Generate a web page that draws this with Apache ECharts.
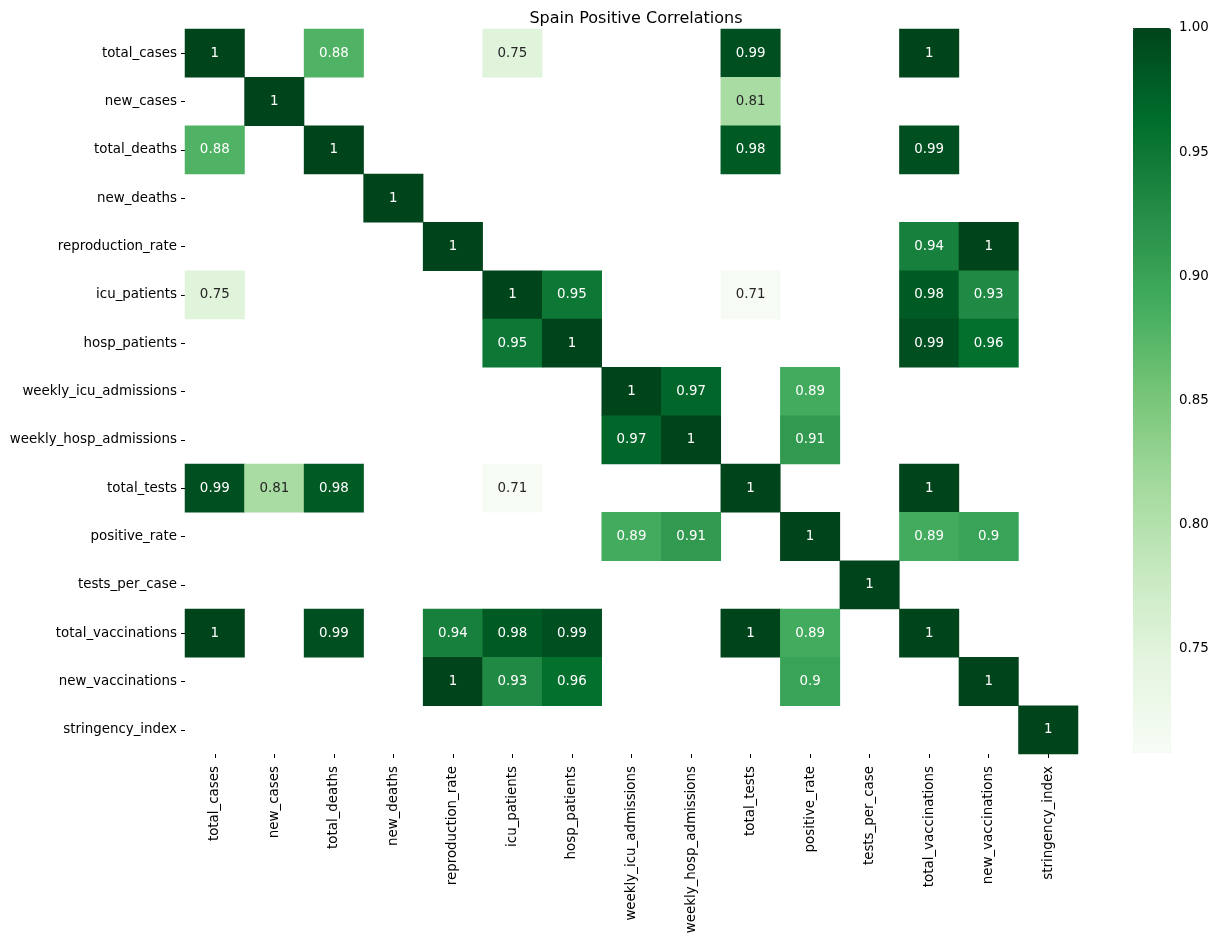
<!DOCTYPE html>
<html>
<head>
<meta charset="utf-8">
<title>Spain Positive Correlations</title>
<script src="https://cdn.jsdelivr.net/npm/echarts@6/dist/echarts.min.js"></script>
<style>
  html, body { margin: 0; padding: 0; background: #fff; }
  #chart { width: 1219px; height: 940px; }
</style>
</head>
<body>
<div id="chart"></div>
<script>
  // variable names, same order on both axes
  var variables = ['total_cases', 'new_cases', 'total_deaths', 'new_deaths', 'reproduction_rate',
    'icu_patients', 'hosp_patients', 'weekly_icu_admissions', 'weekly_hosp_admissions', 'total_tests',
    'positive_rate', 'tests_per_case', 'total_vaccinations', 'new_vaccinations', 'stringency_index'];

  // correlation matrix, null = not shown (below threshold)
  var n = null;
  var corrMatrix = [
    [1,    n,    0.88, n, n,    0.75, n,    n,    n,    0.99, n,    n, 1,    n,    n],
    [n,    1,    n,    n, n,    n,    n,    n,    n,    0.81, n,    n, n,    n,    n],
    [0.88, n,    1,    n, n,    n,    n,    n,    n,    0.98, n,    n, 0.99, n,    n],
    [n,    n,    n,    1, n,    n,    n,    n,    n,    n,    n,    n, n,    n,    n],
    [n,    n,    n,    n, 1,    n,    n,    n,    n,    n,    n,    n, 0.94, 1,    n],
    [0.75, n,    n,    n, n,    1,    0.95, n,    n,    0.71, n,    n, 0.98, 0.93, n],
    [n,    n,    n,    n, n,    0.95, 1,    n,    n,    n,    n,    n, 0.99, 0.96, n],
    [n,    n,    n,    n, n,    n,    n,    1,    0.97, n,    0.89, n, n,    n,    n],
    [n,    n,    n,    n, n,    n,    n,    0.97, 1,    n,    0.91, n, n,    n,    n],
    [0.99, 0.81, 0.98, n, n,    0.71, n,    n,    n,    1,    n,    n, 1,    n,    n],
    [n,    n,    n,    n, n,    n,    n,    0.89, 0.91, n,    1,    n, 0.89, 0.9,  n],
    [n,    n,    n,    n, n,    n,    n,    n,    n,    n,    n,    1, n,    n,    n],
    [1,    n,    0.99, n, 0.94, 0.98, 0.99, n,    n,    1,    0.89, n, 1,    n,    n],
    [n,    n,    n,    n, 1,    0.93, 0.96, n,    n,    n,    0.9,  n, n,    1,    n],
    [n,    n,    n,    n, n,    n,    n,    n,    n,    n,    n,    n, n,    n,    1]
  ];

  var colorMin = 0.708;
  var colorMax = 1.0;
  var colorbarTicks = [0.75, 0.80, 0.85, 0.90, 0.95, 1.00];

  // matplotlib "Greens"
  var greens = ['#f7fcf5', '#e5f5e0', '#c7e9c0', '#a1d99b', '#74c476',
    '#41ab5d', '#238b45', '#006d2c', '#00441b'];

  var cells = [];
  corrMatrix.forEach(function (row, r) {
    row.forEach(function (v, c) {
      if (v === null) return;
      cells.push({
        value: [c, r, v],
        label: { color: v < 0.85 ? '#262626' : '#ffffff' }
      });
    });
  });

  var font = 'DejaVu Sans';
  var chart = echarts.init(document.getElementById('chart'));

  var option = {
    backgroundColor: '#ffffff',
    animation: false,
    title: {
      text: 'Spain Positive Correlations',
      left: 631,
      textAlign: 'center',
      top: 6,
      textStyle: { fontFamily: font, fontSize: 16, fontWeight: 'normal', color: '#000' }
    },
    grid: [
      { left: 185, top: 29, width: 893, height: 725 },
      { left: 1133, top: 28, width: 38, height: 725 }
    ],
    xAxis: [
      {
        type: 'category',
        gridIndex: 0,
        data: variables,
        position: 'bottom',
        axisLine: { show: false },
        axisTick: { show: true, alignWithLabel: true, length: 4, lineStyle: { color: '#000' } },
        axisLabel: { interval: 0, rotate: 90, fontFamily: font, fontSize: 13.4, color: '#000', margin: 12 },
        splitLine: { show: false }
      },
      { type: 'value', gridIndex: 1, show: false, min: 0, max: 1 }
    ],
    yAxis: [
      {
        type: 'category',
        gridIndex: 0,
        data: variables,
        inverse: true,
        axisLine: { show: false },
        axisTick: { show: true, alignWithLabel: true, length: 4, lineStyle: { color: '#000' } },
        axisLabel: { interval: 0, fontFamily: font, fontSize: 13.4, color: '#000', margin: 8 },
        splitLine: { show: false }
      },
      {
        type: 'value',
        gridIndex: 1,
        position: 'right',
        min: colorMin,
        max: colorMax,
        axisLine: { show: false },
        axisTick: { show: true, length: 4, lineStyle: { color: '#000' }, customValues: colorbarTicks },
        axisLabel: {
          fontFamily: font, fontSize: 13.4, color: '#000', margin: 8,
          customValues: colorbarTicks,
          formatter: function (v) { return v.toFixed(2); }
        },
        splitLine: { show: false }
      }
    ],
    visualMap: {
      type: 'continuous',
      seriesIndex: 0,
      min: colorMin,
      max: colorMax,
      calculable: false,
      hoverLink: false,
      orient: 'vertical',
      left: 1133,
      top: 28,
      padding: 0,
      itemWidth: 38,
      itemHeight: 725,
      text: null,
      inRange: { color: greens }
    },
    series: [
      {
        type: 'heatmap',
        xAxisIndex: 0,
        yAxisIndex: 0,
        data: cells,
        label: {
          show: true,
          fontFamily: font,
          fontSize: 13.4,
          formatter: function (p) { return String(p.value[2]); }
        },
        itemStyle: { borderWidth: 0 },
        emphasis: { disabled: true }
      }
    ]
  };

  chart.setOption(option);
</script>
</body>
</html>
